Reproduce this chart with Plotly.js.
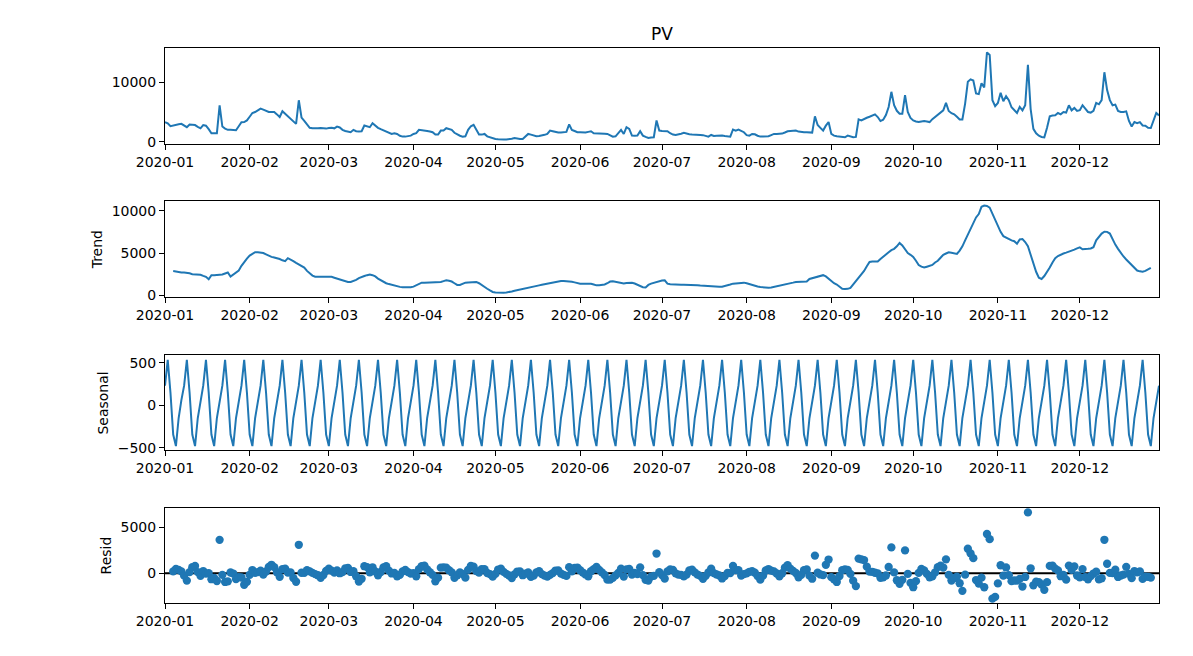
<!DOCTYPE html>
<html>
<head>
<meta charset="utf-8">
<script src="https://cdn.plot.ly/plotly-3.0.1.min.js"></script>
<style>
  html, body { margin: 0; padding: 0; background: #fff; }
  #chart { width: 1193px; height: 656px; }
</style>
</head>
<body>
<div id="chart"></div>
<script>
// Daily page views for 2020 and their additive decomposition (weekly period).

// Observed daily values, 2020-01-01 .. 2020-12-30
const pv = [
  3300, 3100, 2600, 2750, 2800, 2950, 3000, 2700, 2450, 2900,
  2850, 2800, 2500, 2250, 2800, 2700, 2100, 1420, 1420, 1420,
  6130, 2550, 2200, 2000, 1990, 1950, 1930, 2600, 3280, 3300,
  3580, 4200, 4830, 5000, 5300, 5570, 5400, 5200, 5000, 5000,
  5000, 4600, 4150, 5130, 4700, 4150, 3870, 3400, 3000, 6980,
  4050, 3500, 2900, 2330, 2250, 2200, 2250, 2300, 2250, 2200,
  2300, 2350, 2250, 2550, 2400, 2000, 1800, 1700, 1600, 1990,
  1760, 1700, 1760, 2730, 2600, 2440, 3120, 2700, 2330, 2100,
  1900, 1760, 1500, 1300, 1420, 1300, 1000, 850, 850, 950,
  1020, 1300, 1420, 1990, 1950, 1870, 1800, 1700, 1590, 1190,
  1200, 1870, 1870, 2270, 2150, 1990, 1500, 1200, 1000, 850,
  900, 1990, 2600, 2840, 1990, 1190, 1190, 1300, 900, 740,
  600, 450, 400, 340, 350, 380, 400, 500, 620, 500,
  450, 450, 900, 1300, 1190, 1000, 910, 950, 1020, 1150,
  1300, 1870, 1760, 1600, 1530, 1550, 1600, 1650, 2900, 1990,
  1800, 1600, 1590, 1550, 1530, 1650, 1760, 1420, 1420, 1450,
  1420, 1350, 1300, 1130, 850, 900, 1400, 1990, 1300, 2440,
  2160, 1020, 1000, 1020, 1760, 1020, 800, 620, 700, 740,
  3580, 1870, 1800, 1760, 1760, 1420, 1200, 1130, 1200,
  1350, 1480, 1300, 1250, 1190, 1200, 1150, 1130, 1100, 1000,
  850, 1130, 960, 1000, 1050, 1020, 950, 900, 850, 2050,
  1870, 2050, 1800, 1590, 1100, 1020, 1300, 1250, 1000, 850,
  860, 900, 910, 1100, 1300, 1300, 1350, 1360, 1550, 1760,
  1800, 1850, 1870, 1700, 1590, 1590, 1590, 1550, 1530, 4260,
  2800, 2330, 1870, 2700, 3300, 1300, 1020, 900, 850, 800,
  740, 1020, 900, 740, 800, 3750, 3580, 3860, 4030, 4200,
  4400, 4600, 4150, 3470, 3690, 4500, 5850, 8400, 6140, 5200,
  4720, 4720, 7840, 5000, 4000, 3580, 3400, 3300, 3400, 3470,
  3400, 3300, 3800, 4150, 4430, 4800, 5280, 6530, 5170, 4800,
  4600, 4200, 3750, 3750, 6420, 10100, 10500, 10300, 8130, 8010,
  9830, 9150, 15050, 14600, 7000, 6000, 6530, 8230, 6820, 7670,
  6990, 5800, 5280, 4830, 5850, 5280, 6140, 12950, 5500, 2160,
  1420, 1000, 800, 740, 2330, 4260, 4400, 4430, 4830, 4600,
  5000, 4900, 6140, 5280, 5680, 5170, 5300, 6140, 5570, 5000,
  4900, 5200, 6530, 6300, 7000, 11700, 8690, 7000, 6140, 6250,
  5170, 5000, 5000, 5110, 3500, 2550, 3300, 3120, 3300, 2730,
  2700, 2330, 2300, 3500, 4830, 4430
];

// Centred 7-day trend (undefined for the first and last three days)
const trend = [
  null, null, null,
  2880, 2800, 2720, 2720, 2720, 2700, 2620,
  2520, 2480, 2520, 2450, 2320, 2200, 1920, 2400, 2400, 2400,
  2430, 2480, 2600, 2720, 2240, 2450, 2700, 2950, 3500, 4000,
  4350, 4700, 4950, 5100, 5100, 5050, 5000, 4850, 4650, 4550,
  4480, 4420, 4300, 4150, 4050, 4400, 4250, 4050, 3850, 3650,
  3450, 3300, 2900, 2600, 2350, 2220, 2220, 2250, 2280, 2280,
  2280, 2200, 2100, 2000, 1850, 1720, 1620, 1600, 1600, 1700,
  1850, 2050, 2200, 2300, 2400, 2480, 2400, 2250, 2000, 1800,
  1600, 1450, 1350, 1250, 1150, 1080, 1020, 980, 960, 970,
  990, 1050, 1200, 1380, 1520, 1520, 1520, 1520, 1520, 1520,
  1520, 1600, 1700, 1800, 1750, 1650, 1450, 1250, 1250, 1400,
  1520, 1550, 1570, 1590, 1600, 1450, 1200, 1000, 800, 600,
  420, 360, 330, 320, 340, 370, 400, 480, 570, 650,
  730, 800, 880, 960, 1040, 1100, 1150, 1200, 1260, 1330,
  1420, 1500, 1580, 1640, 1690, 1720, 1710, 1700, 1690, 1620,
  1550, 1450, 1400, 1400, 1420, 1440, 1380, 1300, 1200, 1220,
  1260, 1300, 1450, 1650, 1680, 1600, 1500, 1420, 1420, 1480,
  1520, 1500, 1420, 1250, 1050, 980, 960, 1250, 1400, 1500,
  1580, 1680, 1760, 1800, 1400, 1330, 1300, 1280, 1280, 1280,
  1280, 1280, 1280, 1280, 1250, 1220, 1180, 1150, 1120, 1100,
  1100, 1080, 1060, 1050, 1040, 1100, 1200, 1300, 1400, 1450,
  1480, 1500, 1520, 1450, 1330, 1220, 1120, 1060, 1000, 960,
  930, 920, 960, 1020, 1080, 1150, 1200, 1280, 1360, 1440,
  1520, 1600, 1600, 1600, 1600, 1650, 1950, 2050, 2100, 2200,
  2300, 2400, 2250, 1950, 1650, 1450, 1300, 1000, 800, 780,
  790, 900, 1300, 1650, 2000, 2400, 2900, 3450, 3950, 4000,
  4000, 4000, 4300, 4600, 4880, 5100, 5350, 5500, 5800, 6200,
  5900, 5500, 5000, 4800, 4550, 4100, 3600, 3400, 3300, 3400,
  3500, 3600, 3900, 4100, 4450, 4800, 4950, 5100, 5050, 4950,
  4900, 5300, 5800, 6500, 7200, 7800, 8500, 9200, 9600, 10450,
  10600, 10550, 10350, 9600, 8900, 8100, 7500, 7000, 6800, 6650,
  6500, 6400, 6100, 6600, 6650, 6300, 5800, 4800, 3800, 2800,
  2100, 1950, 2300, 2750, 3300, 3900, 4400, 4650, 4850, 4950,
  5050, 5150, 5250, 5400, 5550, 5680, 5450, 5450, 5500, 5550,
  5700, 6500, 6900, 7300, 7520, 7500, 7300, 6600, 6000, 5500,
  5000, 4600, 4250, 3900, 3550, 3200, 2950, 2850, 2800, 2900,
  3050, 3250,
  null, null, null
];

// Weekly seasonal profile, starting on 2020-01-01
const weekProfile = [230, 535, 150, -345, -480, -150, 60];

// ---- derived series ----
const dates = pv.map((_, i) => {
  const d = new Date(Date.UTC(2020, 0, 1 + i));
  return d.toISOString().slice(0, 10);
});
const seasonal = dates.map((_, i) => weekProfile[i % 7]);
const resid = pv.map((v, i) => trend[i] === null ? null : v - trend[i] - seasonal[i]);

// 5% padding around the data, as in the usual autoscaled look
function padRange(arr) {
  const vals = arr.filter(v => v !== null);
  const lo = Math.min(...vals), hi = Math.max(...vals);
  const p = 0.05 * (hi - lo);
  return [lo - p, hi + p];
}

const blue = '#1f77b4';
const font = { family: 'DejaVu Sans', size: 14, color: '#000' };

const traces = [
  { x: dates, y: pv, xaxis: 'x', yaxis: 'y', type: 'scatter', mode: 'lines',
    line: { color: blue, width: 2 }, hoverinfo: 'skip' },
  { x: dates, y: trend, xaxis: 'x2', yaxis: 'y2', type: 'scatter', mode: 'lines',
    line: { color: blue, width: 2 }, connectgaps: false, hoverinfo: 'skip' },
  { x: dates, y: seasonal, xaxis: 'x3', yaxis: 'y3', type: 'scatter', mode: 'lines',
    line: { color: blue, width: 2 }, hoverinfo: 'skip' },
  // zero reference line behind the residual points
  { x: [dates[0], dates[dates.length - 1]], y: [0, 0], xaxis: 'x4', yaxis: 'y4',
    type: 'scatter', mode: 'lines', line: { color: '#000', width: 2 }, hoverinfo: 'skip' },
  { x: dates, y: resid, xaxis: 'x4', yaxis: 'y4', type: 'scatter', mode: 'markers',
    marker: { color: blue, size: 8.3 }, hoverinfo: 'skip' }
];

function xAxis(anchor) {
  return {
    type: 'date', anchor: anchor, domain: [0, 1],
    range: [dates[0], dates[dates.length - 1]],
    tickformat: '%Y-%m', dtick: 'M1', tick0: '2020-01-01',
    ticks: 'outside', ticklen: 5, tickwidth: 1, tickcolor: '#000',
    showline: true, linecolor: '#000', linewidth: 1, mirror: true,
    showgrid: false, zeroline: false, tickfont: font
  };
}
function yAxis(anchor, domain, range, dtick, title) {
  const ax = {
    anchor: anchor, domain: domain, range: range, dtick: dtick, tick0: 0,
    tickformat: 'd',
    ticks: 'outside', ticklen: 5, tickwidth: 1, tickcolor: '#000',
    showline: true, linecolor: '#000', linewidth: 1, mirror: true,
    showgrid: false, zeroline: false, tickfont: font
  };
  if (title) ax.title = { text: title, font: font, standoff: 5 };
  return ax;
}

const layout = {
  width: 1193, height: 656,
  margin: { l: 165, r: 34, t: 48, b: 53 },
  paper_bgcolor: '#fff', plot_bgcolor: '#fff',
  font: font, showlegend: false,
  title: { text: 'PV', font: { family: 'DejaVu Sans', size: 17, color: '#000' },
           x: 0.5, xref: 'paper', y: 1 - 34 / 656, yanchor: 'middle' },
  xaxis: xAxis('y'),
  xaxis2: xAxis('y2'),
  xaxis3: xAxis('y3'),
  xaxis4: xAxis('y4'),
  yaxis: yAxis('x', [0.827, 1.0], padRange(pv), 10000, null),
  yaxis2: yAxis('x2', [0.551, 0.724], padRange(trend), 5000, 'Trend'),
  yaxis3: yAxis('x3', [0.275, 0.446], padRange(seasonal), 500, 'Seasonal'),
  yaxis4: yAxis('x4', [0.0, 0.171], padRange(resid), 5000, 'Resid')
};

Plotly.newPlot('chart', traces, layout, { displayModeBar: false, staticPlot: true });
</script>
</body>
</html>
